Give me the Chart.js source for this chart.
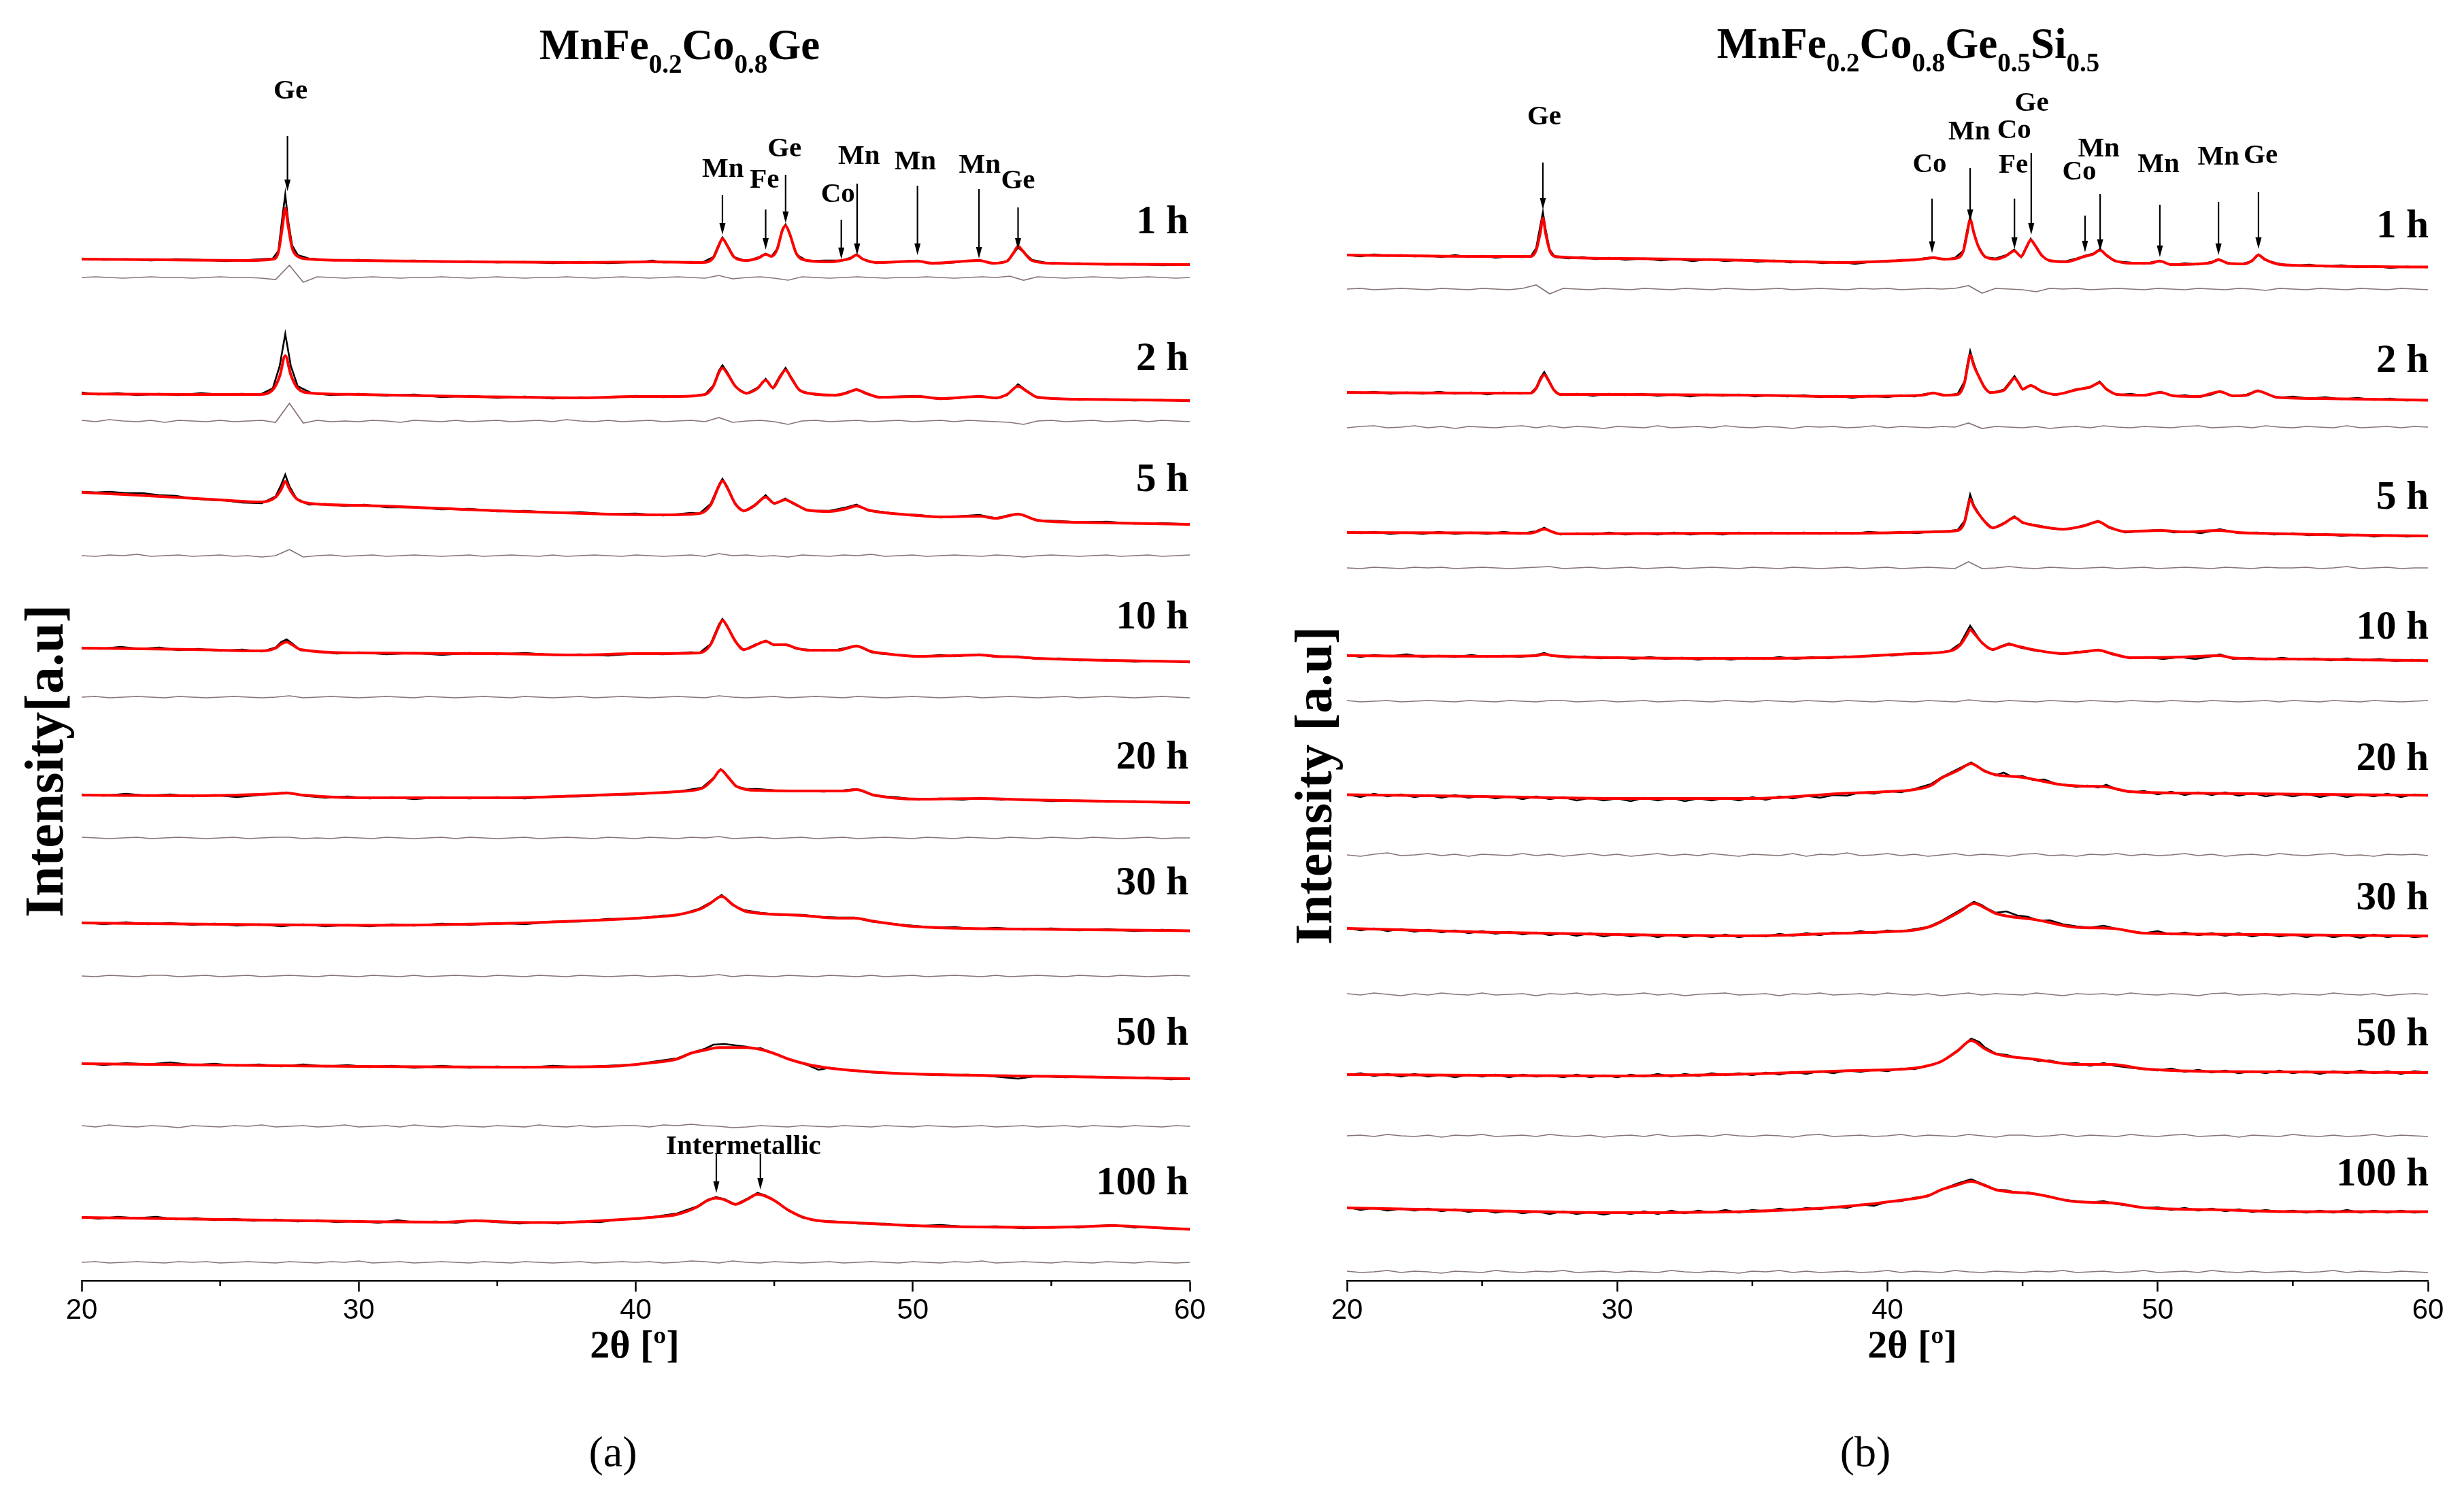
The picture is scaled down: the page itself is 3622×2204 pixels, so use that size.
<!DOCTYPE html>
<html>
<head>
<meta charset="utf-8">
<script src="https://cdn.jsdelivr.net/npm/chart.js@4.4.1/dist/chart.umd.min.js"></script>
<style>
  html, body { margin: 0; padding: 0; background: #fff; overflow: hidden; }
  canvas { position: absolute; left: 0; top: 0; }
</style>
</head>
<body>
<canvas id="chartA" width="3622" height="2204"></canvas>
<canvas id="chartB" width="3622" height="2204"></canvas>
<script>
// milling times, one stacked pattern each (top to bottom)
const timeLabels = ['1 h', '2 h', '5 h', '10 h', '20 h', '30 h', '50 h', '100 h'];
const timeValA = [1555, 1354, 1176, 974, 768, 583, 362, 142];
const timeValB = [1549, 1351, 1150, 959, 766, 561, 361, 155];
const majorTicks = [20, 30, 40, 50, 60];
const minorTicks = [25, 35, 45, 55];

// ---- (a) MnFe0.2Co0.8Ge : fitted (red) and observed (black), [2theta, a.u.] ----
const fitA1 = [[20,1502],[23,1501],[26,1500],[26.9,1502],[27.1,1512],[27.25,1550],[27.35,1577],[27.45,1552],[27.6,1518],[27.8,1506],[28.2,1502],[30,1500],[34,1498],[38,1497],[40.6,1498],[42.4,1497],[42.8,1504],[43.0,1522],[43.13,1532],[43.3,1522],[43.55,1505],[44.0,1500],[44.45,1504],[44.69,1509],[44.9,1506],[45.1,1516],[45.3,1545],[45.41,1551],[45.55,1540],[45.8,1510],[46.2,1500],[47.0,1498],[47.42,1500],[47.75,1503],[47.97,1508],[48.2,1502],[48.7,1497],[50.17,1499],[50.7,1496],[52.39,1500],[52.9,1496],[53.4,1499],[53.65,1512],[53.8,1521],[53.95,1515],[54.3,1500],[55,1496],[60,1494]];
const obsA1 = [[20,1503],[20.8,1501],[21.6,1502],[22.5,1500],[23.4,1502],[24.3,1501],[25.2,1499],[26.1,1501],[26.9,1503],[27.1,1514],[27.25,1565],[27.35,1597],[27.45,1560],[27.6,1522],[27.8,1508],[28.2,1503],[29.1,1500],[30,1501],[31,1499],[32,1500],[33,1498],[34,1499],[35,1497],[36,1498],[37,1496],[38,1498],[39,1496],[40.2,1498],[40.6,1500],[41,1497],[42,1498],[42.4,1497],[42.8,1505],[43.0,1524],[43.13,1534],[43.3,1523],[43.55,1505],[44.0,1499],[44.45,1505],[44.69,1510],[44.9,1506],[45.1,1517],[45.3,1547],[45.41,1553],[45.55,1541],[45.8,1509],[46.2,1499],[46.8,1500],[47.42,1500],[47.75,1504],[47.97,1509],[48.2,1502],[48.7,1496],[49.4,1498],[50.17,1500],[50.7,1495],[51.5,1497],[52.39,1501],[52.9,1495],[53.4,1499],[53.65,1511],[53.8,1519],[53.95,1514],[54.3,1501],[55,1495],[56,1496],[57,1494],[58,1495],[59,1493],[60,1494]];

const fitA2 = [[20,1304],[24,1303],[26.4,1303],[26.9,1310],[27.15,1330],[27.35,1360],[27.55,1332],[27.8,1312],[28.3,1305],[30,1303],[34,1300],[38,1298],[40,1300],[41.5,1300],[42.5,1303],[42.8,1315],[43.0,1335],[43.13,1342],[43.3,1334],[43.6,1315],[44.0,1305],[44.4,1312],[44.69,1324],[44.95,1313],[45.2,1328],[45.41,1339],[45.6,1328],[45.9,1310],[46.4,1304],[47.2,1302],[47.6,1305],[47.97,1310],[48.3,1305],[48.8,1299],[50.2,1300],[51,1297],[52.4,1300],[53.0,1298],[53.4,1303],[53.8,1315],[54.1,1308],[54.5,1299],[56,1296],[60,1294]];
const obsA2 = [[20,1306],[20.6,1303],[21.3,1305],[22,1302],[22.8,1304],[23.5,1302],[24.3,1305],[25,1303],[25.8,1304],[26.4,1302],[26.9,1312],[27.15,1345],[27.35,1392],[27.55,1345],[27.8,1315],[28.3,1305],[29,1302],[30,1304],[31,1301],[32,1303],[33,1299],[34,1301],[35,1298],[36,1300],[37,1297],[38,1299],[39,1298],[40,1301],[41,1299],[42,1301],[42.5,1303],[42.8,1316],[43.0,1338],[43.13,1346],[43.3,1336],[43.6,1314],[44.0,1304],[44.4,1313],[44.69,1326],[44.95,1312],[45.2,1330],[45.41,1342],[45.6,1329],[45.9,1309],[46.4,1303],[47.2,1301],[47.6,1306],[47.97,1311],[48.3,1304],[48.8,1298],[49.5,1300],[50.2,1301],[51,1296],[51.7,1298],[52.4,1301],[53.0,1297],[53.4,1302],[53.8,1318],[54.1,1309],[54.5,1298],[55.3,1297],[56,1295],[57,1296],[58,1294],[59,1295],[60,1293]];

const fitA3 = [[20,1159],[22,1155],[25,1148],[26.5,1145],[27.0,1152],[27.2,1163],[27.35,1175],[27.5,1164],[27.75,1150],[28.2,1143],[30,1140],[35,1132],[39,1127],[41,1126],[42.3,1128],[42.7,1140],[43.0,1168],[43.13,1176],[43.3,1166],[43.6,1142],[43.9,1132],[44.3,1140],[44.69,1152],[45.0,1143],[45.4,1148],[45.7,1143],[46.2,1133],[47.0,1131],[47.6,1135],[47.97,1139],[48.4,1133],[48.8,1130],[50.2,1125],[51,1123],[52.4,1124],[53,1121],[53.8,1127],[54.5,1118],[56,1115],[60,1112]];
const obsA3 = [[20,1160],[20.5,1159],[21,1160],[21.6,1158],[22.2,1158],[22.8,1155],[23.4,1154],[24,1150],[24.6,1148],[25.2,1147],[25.8,1144],[26.5,1143],[27.0,1153],[27.2,1170],[27.35,1185],[27.5,1168],[27.75,1150],[28.2,1141],[28.8,1142],[29.5,1139],[30.2,1141],[31,1137],[32,1137],[33,1134],[34,1135],[35,1131],[36,1132],[37,1129],[38,1130],[39,1127],[40,1128],[41,1125],[42,1129],[42.3,1128],[42.7,1142],[43.0,1170],[43.13,1179],[43.3,1168],[43.6,1141],[43.9,1131],[44.3,1141],[44.69,1155],[45.0,1142],[45.4,1150],[45.7,1142],[46.2,1132],[47.0,1132],[47.6,1137],[47.97,1141],[48.4,1132],[48.8,1131],[49.5,1127],[50.2,1126],[51,1122],[51.7,1124],[52.4,1126],[53,1121],[53.4,1125],[53.8,1128],[54.5,1118],[55.3,1117],[56,1115],[57,1116],[58,1113],[59,1114],[60,1112]];

const fitA4 = [[20,930],[24,928],[26.5,926],[27.0,930],[27.2,936],[27.4,939],[27.6,935],[27.9,928],[30,923],[35,922],[38,920],[40,922],[42.3,923],[42.7,935],[43.0,962],[43.13,971],[43.3,962],[43.6,940],[43.9,928],[44.3,934],[44.7,940],[45.0,935],[45.4,935],[45.8,930],[46.2,927],[47.3,927],[47.97,933],[48.5,925],[48.8,923],[50.2,918],[51.5,919],[52.4,920],[53,918],[53.8,917],[54.5,915],[60,910]];
const obsA4 = [[20,931],[20.7,929],[21.4,932],[22.1,929],[22.8,931],[23.5,927],[24.2,929],[25,926],[25.8,928],[26.5,925],[27.0,931],[27.2,939],[27.4,943],[27.6,937],[27.9,927],[28.5,925],[29.2,922],[30,924],[31,921],[32,923],[33,920],[34,923],[35,921],[36,923],[37,920],[38,921],[39,919],[40,922],[41,921],[42,924],[42.3,923],[42.7,936],[43.0,965],[43.13,973],[43.3,963],[43.6,939],[43.9,927],[44.3,935],[44.7,941],[45.0,934],[45.4,936],[45.8,929],[46.2,928],[46.8,926],[47.3,928],[47.97,934],[48.5,924],[48.8,922],[49.5,920],[50.2,917],[51,920],[51.5,918],[52.4,921],[53,917],[53.8,918],[54.5,914],[55.3,915],[56,912],[57,913],[58,910],[59,911],[60,909]];

const fitA5 = [[20,714],[24,713],[27,716],[27.4,717],[28,714],[30,710],[35,710],[38,713],[40,716],[41.5,719],[42.4,724],[42.8,738],[43.07,751],[43.3,742],[43.6,728],[44.0,722],[44.4,721],[46,720],[47.5,720],[47.97,722],[48.6,714],[50.2,708],[52.4,709],[54,707],[60,703]];
const obsA5 = [[20,715],[20.8,713],[21.6,716],[22.4,713],[23.2,715],[24,712],[24.8,714],[25.6,711],[26.4,714],[27.4,718],[28,713],[28.8,710],[29.6,712],[30.4,709],[31.2,711],[32,708],[33,711],[34,709],[35,711],[36,709],[37,712],[38,712],[39,714],[40,715],[41,718],[41.5,719],[42.4,725],[42.8,739],[43.07,752],[43.3,743],[43.6,727],[44.0,723],[44.4,723],[45,721],[46,720],[46.8,719],[47.5,721],[47.97,723],[48.6,713],[49.4,711],[50.2,707],[51,709],[51.8,707],[52.4,710],[53.2,707],[54,708],[55,705],[56,706],[57,704],[58,705],[59,703],[60,703]];

const fitA6 = [[20,526],[25,524],[30,522.5],[35,525],[38,529],[40,533],[41.5,538],[42.3,546],[42.7,555],[43.1,565],[43.5,553],[43.9,544],[44.5,540],[46,537],[47.3,533],[47.9,533],[48.5,529],[50,521],[52,518],[55,516.6],[60,514.4]];
const obsA6 = [[20,527],[20.8,524],[21.6,527],[22.4,524],[23.2,526],[24,523],[24.8,525],[25.6,522],[26.4,524],[27.2,521],[28,524],[28.8,521],[29.6,523],[30.4,521],[31.2,524],[32,522],[33,525],[34,523],[35,526],[36,524],[37,528],[38,528],[39,532],[40,532],[41,537],[41.5,537],[42.3,547],[42.7,556],[43.1,567],[43.5,552],[43.9,545],[44.5,541],[45.2,538],[46,538],[46.7,535],[47.3,534],[47.9,534],[48.5,528],[49.2,525],[50,522],[50.8,519],[51.5,520],[52.3,517],[53,519],[54,516],[55,518],[56,515],[57,517],[58,514],[59,516],[60,514]];

const fitA7 = [[20,319],[25,317],[30,315],[35,314],[39,315],[40.5,320],[41.5,326],[42,334.5],[42.5,339],[43,342.7],[44,342.7],[44.5,340],[45,334],[45.5,326],[46.2,318],[47,312.5],[48.5,307],[50,304],[55,300.4],[60,297]];
const obsA7 = [[20,320],[20.8,317],[21.6,320],[22.4,318],[23.2,321],[24,317],[24.8,319],[25.6,316],[26.4,318],[27.2,315],[28,318],[28.8,315],[29.6,317],[30.4,314],[31.2,316],[32,313],[33,316],[34,313],[35,315],[36,313],[37,316],[38,314],[39,316],[40,318],[40.8,323],[41.5,327],[42,335],[42.5,341],[42.8,347],[43.2,348],[43.6,346],[44,344],[44.2,341],[44.5,342],[45,334],[45.5,326],[46.2,317],[46.6,310],[47,313],[47.8,309],[48.5,306],[49.3,305],[50,304],[51,302],[52,303],[53,300],[53.8,297],[54.5,301],[55.5,299],[56.5,300],[57.5,298],[58.5,299],[59.3,296],[60,297]];

const fitA8 = [[20,93],[25,90],[30,87],[33,86],[34.2,88],[35.5,86],[37,85.4],[39,88.7],[40.5,93],[41.5,97.5],[42.2,108],[42.6,118],[42.9,121.6],[43.2,119],[43.6,112.3],[44.0,119],[44.4,127],[44.7,124],[45.0,118],[45.5,104],[46.0,94],[46.5,88.7],[48,85],[50,81],[55,78.3],[56.5,80],[57.2,81],[58.5,78.5],[60,75.5]];
const obsA8 = [[20,94],[20.6,91],[21.3,94],[22,92],[22.7,94],[23.4,90],[24.1,92],[24.8,89],[25.5,91],[26.2,88],[27,90],[27.8,87],[28.5,89],[29.2,86],[30,88],[30.7,85],[31.4,89],[32,86],[32.8,87],[33.5,85],[34.2,89],[35,86],[35.8,84],[36.5,86],[37.2,84],[38,87],[38.7,86],[39.4,90],[40.2,91],[41,96],[41.5,99],[42.2,109],[42.6,119],[42.9,123],[43.2,120],[43.6,112],[44.0,120],[44.4,129],[44.7,125],[45.0,118],[45.5,103],[46.0,93],[46.5,88],[47.2,87],[48,84],[49,84],[50,80],[51,82],[52,79],[53,80],[54,77],[55,79],[56,78],[56.5,80],[57.2,82],[58,78],[58.5,79],[59.3,76],[60,76]];

// ---- (b) MnFe0.2Co0.8Ge0.5Si0.5 ----
const fitB1 = [[20,1508],[25,1506],[26.8,1506],[27.0,1515],[27.15,1540],[27.25,1562],[27.35,1540],[27.5,1515],[27.7,1506],[30,1503],[35,1500],[38.4,1497],[40.5,1500],[41.3,1502],[41.7,1504],[42.1,1502],[42.5,1503],[42.8,1513],[42.95,1540],[43.06,1560],[43.2,1540],[43.35,1522],[43.6,1506],[44.0,1502],[44.4,1507],[44.69,1514],[44.95,1506],[45.15,1520],[45.3,1530],[45.45,1523],[45.7,1508],[46.0,1500],[46.6,1498],[47.3,1506],[47.6,1509],[47.87,1515],[48.1,1508],[48.4,1500],[49,1496],[49.7,1496],[50.08,1499],[50.5,1494],[51.5,1495],[52.0,1497],[52.25,1501],[52.6,1496],[53.2,1495],[53.5,1500],[53.73,1508],[53.95,1502],[54.4,1495],[55,1493],[60,1490.5]];
const obsB1 = [[20,1508],[20.5,1506],[21,1509],[21.5,1507],[22,1508],[22.5,1506],[23,1507],[23.5,1505],[24,1508],[24.5,1505],[25,1507],[25.5,1504],[26,1506],[26.5,1505],[26.8,1506],[27.0,1518],[27.15,1550],[27.25,1571],[27.35,1546],[27.5,1516],[27.7,1505],[28.2,1503],[28.7,1505],[29.2,1502],[29.7,1504],[30.3,1501],[31,1503],[31.6,1500],[32.2,1502],[32.8,1499],[33.4,1502],[34,1499],[34.6,1501],[35.2,1498],[35.8,1500],[36.4,1497],[37,1499],[37.6,1496],[38.2,1498],[38.8,1495],[39.4,1498],[40,1498],[40.5,1501],[41,1500],[41.3,1503],[41.7,1505],[42.1,1501],[42.5,1504],[42.8,1514],[42.95,1545],[43.06,1564],[43.2,1542],[43.35,1522],[43.6,1505],[44.0,1503],[44.4,1508],[44.69,1516],[44.95,1505],[45.15,1521],[45.3,1532],[45.45,1523],[45.7,1507],[46.0,1499],[46.6,1499],[47.0,1503],[47.3,1507],[47.6,1510],[47.87,1517],[48.1,1507],[48.4,1499],[49,1497],[49.5,1495],[50.08,1500],[50.5,1493],[51,1496],[51.5,1494],[52.0,1498],[52.25,1502],[52.6,1495],[53.2,1496],[53.5,1499],[53.73,1509],[53.95,1501],[54.4,1496],[55,1492],[55.6,1494],[56.2,1491],[56.8,1493],[57.4,1490],[58,1492],[58.6,1489],[59.2,1491],[60,1490]];

const fitB2 = [[20,1306],[25,1305],[26.8,1305],[27.0,1312],[27.15,1324],[27.3,1332],[27.45,1324],[27.65,1310],[27.9,1303],[30,1303],[35,1302],[38.4,1300],[40.5,1301],[41.3,1302],[41.7,1305],[42.1,1302],[42.6,1303],[42.85,1320],[42.97,1345],[43.06,1361],[43.2,1345],[43.4,1328],[43.6,1313],[43.8,1306],[44.3,1309],[44.5,1318],[44.7,1327],[44.85,1320],[45.0,1311],[45.3,1316],[45.7,1308],[46.2,1303],[47.0,1310],[47.5,1314],[47.85,1320],[48.1,1311],[48.5,1303],[49.5,1302],[50.1,1306],[50.6,1301],[51.5,1300],[52.3,1307],[52.8,1301],[53.3,1302],[53.7,1308],[54.4,1299],[56,1297],[60,1294.6]];
const obsB2 = [[20,1307],[20.5,1305],[21,1307],[21.6,1304],[22.2,1306],[22.8,1304],[23.4,1307],[24,1304],[24.6,1306],[25.2,1303],[25.8,1306],[26.4,1304],[26.8,1305],[27.0,1313],[27.15,1327],[27.3,1336],[27.45,1326],[27.65,1310],[27.9,1302],[28.5,1304],[29.1,1301],[29.7,1304],[30.3,1302],[30.9,1304],[31.5,1301],[32.1,1303],[32.7,1300],[33.3,1303],[33.9,1301],[34.5,1303],[35.1,1300],[35.7,1302],[36.3,1300],[36.9,1302],[37.5,1299],[38.1,1301],[38.7,1298],[39.3,1301],[40,1299],[40.5,1302],[41,1300],[41.3,1303],[41.7,1306],[42.1,1301],[42.6,1304],[42.85,1322],[42.97,1350],[43.06,1367],[43.2,1348],[43.4,1327],[43.6,1312],[43.8,1305],[44.3,1310],[44.5,1320],[44.7,1330],[44.85,1321],[45.0,1310],[45.3,1317],[45.7,1307],[46.2,1302],[46.6,1306],[47.0,1311],[47.5,1313],[47.85,1322],[48.1,1310],[48.5,1302],[49,1304],[49.5,1301],[50.1,1307],[50.6,1300],[51,1302],[51.5,1299],[52,1303],[52.3,1308],[52.8,1300],[53.3,1303],[53.7,1309],[54.4,1298],[55,1300],[55.6,1297],[56.2,1299],[56.8,1296],[57.4,1298],[58,1295],[58.6,1297],[59.2,1294],[60,1295]];

const fitB3 = [[20,1100],[25,1099.5],[26.8,1099],[27.0,1101],[27.3,1105],[27.6,1101],[27.9,1098],[30,1098.5],[35,1099],[38.4,1099],[40.5,1100],[41.7,1101],[42.6,1103],[42.85,1115],[42.97,1135],[43.06,1149],[43.2,1138],[43.5,1121],[43.9,1107],[44.3,1113],[44.7,1122],[45.0,1115],[45.5,1110],[46.5,1105],[47.3,1110],[47.8,1116],[48.2,1108],[48.8,1101.5],[50.1,1103],[51,1101],[52.3,1103],[53,1100],[53.7,1099],[56,1097],[60,1095]];
const obsB3 = [[20,1101],[20.5,1099],[21,1101],[21.6,1098],[22.2,1100],[22.8,1098],[23.4,1101],[24,1098],[24.6,1100],[25.2,1098],[25.8,1101],[26.4,1098],[27.0,1102],[27.3,1107],[27.6,1101],[27.9,1097],[28.5,1099],[29.1,1097],[29.7,1100],[30.3,1097],[30.9,1099],[31.5,1097],[32.1,1100],[32.7,1097],[33.3,1099],[33.9,1097],[34.5,1100],[35.1,1098],[35.7,1100],[36.3,1098],[36.9,1100],[37.5,1098],[38.1,1100],[38.7,1098],[39.3,1101],[40,1099],[40.5,1101],[41.1,1099],[41.7,1102],[42.2,1102],[42.6,1104],[42.85,1117],[42.97,1140],[43.06,1156],[43.2,1140],[43.5,1120],[43.9,1106],[44.3,1114],[44.7,1124],[45.0,1114],[45.5,1111],[46,1107],[46.5,1104],[47.0,1108],[47.3,1111],[47.8,1117],[48.2,1107],[48.8,1100],[49.4,1102],[50.1,1104],[50.6,1100],[51,1102],[51.6,1099],[52.3,1105],[53,1099],[53.7,1100],[54.3,1097],[55,1099],[55.6,1096],[56.2,1098],[56.8,1095],[57.4,1097],[58,1094],[58.6,1096],[59.2,1094],[60,1095]];

const fitB4 = [[20,919],[25,918],[27.0,919],[27.3,921],[27.6,919],[30,916],[35,915],[38.4,917],[41,922],[42.3,925.6],[42.7,935],[42.95,950],[43.06,957],[43.2,952],[43.5,938],[43.9,928],[44.2,932],[44.5,935.5],[44.9,932],[45.5,927],[46.5,922],[47.3,925],[47.8,927],[48.3,922],[49,916],[51,917],[52.3,919],[52.8,915.6],[55,914],[60,911.7]];
const obsB4 = [[20,920],[20.5,917],[21,920],[21.6,918],[22.2,921],[22.8,917],[23.4,919],[24,917],[24.6,920],[25.2,917],[25.8,919],[26.4,917],[27.0,920],[27.3,923],[27.6,919],[28.2,916],[28.8,918],[29.4,915],[30,917],[30.6,914],[31.2,917],[31.8,914],[32.4,916],[33,913],[33.6,916],[34.2,913],[34.8,916],[35.4,914],[36,917],[36.6,914],[37.2,917],[37.8,915],[38.4,918],[39,917],[39.6,920],[40.2,919],[41,923],[41.6,922],[42.3,926],[42.7,937],[42.95,955],[43.06,963],[43.2,955],[43.5,937],[43.9,927],[44.2,933],[44.5,937],[44.9,931],[45.5,926],[46,924],[46.5,921],[47.0,925],[47.3,924],[47.8,928],[48.3,921],[49,915],[49.6,917],[50.2,914],[50.8,917],[51.4,914],[52,918],[52.3,921],[52.8,914],[53.4,916],[54,913],[54.6,916],[55.2,913],[55.8,915],[56.4,912],[57,915],[57.6,912],[58.2,914],[58.8,911],[59.4,913],[60,911]];

const fitB5 = [[20,714.5],[25,712],[30,709],[35,709],[38.4,716.5],[40,719],[41,722],[41.6,728],[42,739],[42.6,750],[43.1,760],[43.6,749],[44,744],[45,740],[46.5,729],[47.4,727],[48,726.5],[49,719],[52,716.5],[60,713.7]];
const obsB5 = [[20,715],[20.5,711],[21,716],[21.5,712],[22,715],[22.5,711],[23,714],[23.5,710],[24,714],[24.5,710],[25,713],[25.5,709],[26,712],[26.5,708],[27,712],[27.5,708],[28,711],[28.5,706],[29,710],[29.5,706],[30,709],[30.5,705],[31,710],[31.5,706],[32,710],[32.5,705],[33,709],[33.5,706],[34,710],[34.5,706],[35,711],[35.5,707],[36,712],[36.5,709],[37,713],[37.5,710],[38,714],[38.5,713],[39,718],[39.5,716],[40,720],[40.5,718],[41,723],[41.6,730],[42,740],[42.6,752],[43.1,762],[43.3,757],[43.6,750],[44,743],[44.3,747],[44.6,741],[45,742],[45.4,736],[45.8,737],[46.2,731],[46.6,729],[47,726],[47.4,728],[47.8,725],[48.1,729],[48.5,722],[49,718],[49.5,720],[50,715],[50.5,719],[51,714],[51.5,718],[52,714],[52.5,718],[53,713],[53.5,717],[54,712],[54.5,716],[55,712],[55.5,716],[56,711],[56.5,715],[57,711],[57.5,715],[58,712],[58.5,716],[59,711],[59.5,715],[60,713]];

const fitB6 = [[20,518],[25,512.6],[30,509],[35,507],[38.4,511],[40,513],[41,515.6],[41.6,521],[42,528],[42.7,543],[43.2,554.5],[43.7,546],[44,540],[45.5,530.6],[47,519.5],[48.3,518],[49.5,511],[52,509.5],[60,506.7]];
const obsB6 = [[20,519],[20.5,515],[21,518],[21.5,514],[22,517],[22.5,513],[23,516],[23.5,512],[24,515],[24.5,511],[25,514],[25.5,510],[26,513],[26.5,509],[27,512],[27.5,508],[28,511],[28.5,507],[29,511],[29.5,506],[30,510],[30.5,506],[31,509],[31.5,505],[32,509],[32.5,505],[33,508],[33.5,505],[34,509],[34.5,505],[35,508],[35.5,506],[36,510],[36.5,507],[37,511],[37.5,508],[38,512],[38.5,510],[39,514],[39.5,511],[40,515],[40.5,513],[41,517],[41.5,520],[42,529],[42.7,545],[43.2,557],[43.5,552],[43.7,547],[44,541],[44.4,543],[44.8,537],[45.2,535],[45.6,529],[46,530],[46.5,524],[47,521],[47.5,519],[48,522],[48.4,518],[49,514],[49.5,511],[50,514],[50.5,509],[51,512],[51.5,508],[52,511],[52.5,507],[53,511],[53.5,506],[54,510],[54.5,506],[55,509],[55.5,505],[56,509],[56.5,505],[57,508],[57.5,504],[58,509],[58.5,505],[59,508],[59.5,505],[60,507]];

const fitB7 = [[20,303],[25,302],[30,301],[35,304],[38.4,308.6],[41,312.5],[41.6,317],[42,322.5],[42.6,338],[43.1,353],[43.6,341],[44,333.6],[45.5,325.3],[47,318],[48.3,318],[49.5,311.4],[52,307.5],[60,306]];
const obsB7 = [[20,302],[20.5,305],[21,301],[21.5,304],[22,300],[22.5,304],[23,300],[23.5,303],[24,299],[24.5,303],[25,300],[25.5,303],[26,299],[26.5,303],[27,300],[27.5,302],[28,299],[28.5,303],[29,299],[29.5,302],[30,299],[30.5,303],[31,300],[31.5,304],[32,300],[32.5,304],[33,301],[33.5,305],[34,302],[34.5,305],[35,302],[35.5,306],[36,303],[36.5,307],[37,304],[37.5,308],[38,305],[38.5,309],[39,307],[39.5,310],[40,308],[40.5,312],[41,311],[41.5,316],[42,322],[42.6,339],[43.1,356],[43.4,351],[43.6,343],[44,334],[44.4,332],[44.8,328],[45.2,327],[45.6,323],[46,324],[46.5,319],[47,320],[47.5,316],[48,320],[48.4,316],[49,313],[49.5,311],[50,309],[50.5,312],[51,307],[51.5,310],[52,306],[52.5,309],[53,305],[53.5,308],[54,305],[54.5,309],[55,305],[55.5,308],[56,304],[56.5,308],[57,305],[57.5,309],[58,305],[58.5,308],[59,304],[59.5,308],[60,306]];

const fitB8 = [[20,107],[25,103],[30,100],[35,102],[38.4,109],[40.5,118.3],[41.5,125],[42,133.8],[42.6,141],[43.1,146],[43.6,140],[44,133.8],[45.5,127.2],[47,116],[48.3,114.4],[49.5,107.2],[52,104.4],[55,101.6],[60,101.6]];
const obsB8 = [[20,108],[20.5,104],[21,107],[21.5,103],[22,106],[22.5,103],[23,106],[23.5,102],[24,105],[24.5,101],[25,104],[25.5,100],[26,103],[26.5,99],[27,102],[27.5,98],[28,102],[28.5,98],[29,101],[29.5,97],[30,101],[30.5,98],[31,102],[31.5,98],[32,103],[32.5,99],[33,103],[33.5,100],[34,104],[34.5,100],[35,104],[35.5,102],[36,106],[36.5,103],[37,107],[37.5,105],[38,109],[38.5,107],[39,112],[39.5,110],[40,116],[40.5,117],[41,122],[41.5,124],[42,134],[42.6,143],[43.1,149],[43.4,144],[43.6,141],[44,134],[44.4,133],[44.8,129],[45.2,130],[45.6,126],[46,124],[46.5,119],[47,117],[47.5,115],[48,117],[48.4,113],[49,110],[49.5,107],[50,108],[50.5,104],[51,107],[51.5,103],[52,106],[52.5,102],[53,105],[53.5,101],[54,104],[54.5,101],[55,103],[55.5,100],[56,103],[56.5,100],[57,104],[57.5,100],[58,103],[58.5,100],[59,103],[59.5,100],[60,102]];

// ---- difference curves: level of each curve and its deviations on the 0.5 deg grid ----
const diffTheta = [20,20.5,21,21.5,22,22.5,23,23.5,24,24.5,25,25.5,26,26.5,27,27.5,28,28.5,29,29.5,30,30.5,31,31.5,32,32.5,33,33.5,34,34.5,35,35.5,36,36.5,37,37.5,38,38.5,39,39.5,40,40.5,41,41.5,42,42.5,43,43.5,44,44.5,45,45.5,46,46.5,47,47.5,48,48.5,49,49.5,50,50.5,51,51.5,52,52.5,53,53.5,54,54.5,55,55.5,56,56.5,57,57.5,58,58.5,59,59.5,60];
const diffLevelA = [1475, 1264, 1066, 858, 651, 448, 227, 27];
const diffLevelB = [1458, 1255, 1048, 852, 626, 421, 213, 13];

const diffA1 = [0,1,0,-1,0,1,0,0,-1,0, 1,0,0,-1,-3,18,-7,1,0,-1, 0,1,0,-1,0,0,1,0,-1,0, 1,0,-1,0,0,1,0,-1,0,1, 0,-1,0,1,0,-1,3,-2,0,1, -1,-4,1,0,-1,0,1,0,-1,0, 0,1,0,-1,0,1,0,2,-4,1, 0,-1,0,1,0,-1,0,1,0,-1, 0];
const diffA2 = [1,-1,2,0,-1,1,-2,1,0,-1, 1,-1,0,1,-2,26,-3,1,-1,0, -1,1,0,-2,1,0,-1,1,-1,0, 1,-1,0,1,-1,2,0,-1,1,-1, 0,1,-1,0,1,-1,5,-2,0,1, -1,-5,0,1,-1,0,1,-1,0,1, -1,0,1,-1,1,0,-1,-2,-5,0, 1,-1,0,1,-1,0,1,-1,1,0, -1];
const diffA3 = [0,-1,1,0,2,-1,0,1,-1,0, 1,-1,0,-2,0,9,-2,0,1,-1, 0,1,-1,0,1,0,-1,0,1,-1, 0,1,0,-1,1,-1,0,1,0,-1, 1,0,-1,0,1,-1,3,0,1,-1, 0,-2,1,0,-1,1,0,2,-1,0, 1,-1,0,1,0,-1,1,0,-2,0, 1,0,-1,0,1,-1,0,1,-1,0, 1];
const diffA4 = [0,1,-1,0,1,0,-1,1,0,-1, 0,1,0,-1,0,2,-1,0,1,0, -1,0,1,0,-1,1,0,-1,0,1, 0,-1,1,0,-1,0,1,-1,0,1, 0,-1,0,1,0,-1,2,0,-1,0, 1,-1,0,1,0,-1,1,0,-1,0, 1,0,-1,0,1,-1,0,1,0,-1, 0,1,-1,0,1,0,-1,0,1,0, -1];
const diffA5 = [1,0,-1,0,1,-1,0,1,0,-1, 0,1,-1,0,1,1,-1,0,-1,1, 0,-1,1,0,-1,0,1,-1,1,0, -1,0,1,-1,0,1,0,-1,1,0, -1,1,0,-1,1,0,2,-1,0,1, -1,0,1,-1,0,1,-1,0,1,0, -1,1,0,-1,1,0,-1,1,0,-1, 1,0,-1,1,0,-1,0,1,-1,0, 0];
const diffA6 = [0,-1,1,0,-1,1,1,-1,0,1, -1,0,1,-1,0,1,0,-1,1,0, -1,1,0,-1,1,-1,0,1,0,-1, 1,0,-1,1,0,-1,1,0,-1,0, 1,-1,0,1,-1,0,2,-1,1,0, -1,1,0,-1,1,0,-1,1,-1,0, 1,-1,0,1,0,-1,1,-1,0,1, 0,-1,1,0,-1,1,0,-1,0,1, 0];
const diffA7 = [1,-1,2,0,-1,1,0,-2,1,0, -1,1,0,2,-1,0,1,-1,0,2, -1,0,1,-1,2,0,-1,1,0,-1, 1,0,-1,2,0,-1,1,-1,0,1, 1,-1,2,1,3,1,0,-2,-1,1, 0,-1,1,0,-1,1,0,-1,1,0, -1,1,0,-1,0,1,-1,0,1,-1, 0,1,-1,1,0,-1,1,0,-1,1, 0];
const diffA8 = [0,1,-1,0,1,0,-1,1,0,1, -1,0,1,0,-1,1,0,-1,1,0, 2,-1,0,1,-1,0,1,0,-1,1, 0,-1,1,0,-1,0,1,-1,0,1, 0,1,-1,0,2,1,-1,2,0,-1, 1,0,-1,0,1,-1,0,1,0,-1, 1,0,-1,1,0,2,-1,0,1,0, -1,1,0,-1,1,0,-1,1,0,-1, 0];

const diffB1 = [0,1,-1,0,1,0,-1,1,0,-1, 1,0,-1,1,6,-7,1,0,-1,1, 0,-1,1,0,-1,1,0,-1,1,0, -1,0,1,-1,0,1,0,-1,1,0, 1,-1,0,1,0,1,5,-6,1,0, -1,-4,1,0,1,-1,0,1,0,-1, 1,0,-1,1,0,-1,1,0,-2,1, 0,-1,1,0,-1,1,0,-1,1,0, -1];
const diffB2 = [-1,1,2,-1,0,2,-1,1,-2,1, 0,-1,1,2,-1,2,-1,1,0,-2, 1,0,-1,2,-1,0,1,-1,2,0, -1,1,0,-2,1,0,1,-1,0,2, -1,1,0,-1,1,0,6,-2,1,0, -1,1,-2,0,1,-1,2,0,-1,1, 0,-1,1,2,-1,0,1,-1,2,0, -1,1,0,-1,2,-1,0,1,-1,1, 0];
const diffB3 = [0,-1,1,0,-1,1,0,1,-1,0, 1,0,-1,0,1,2,-1,0,1,-1, 0,1,-1,0,1,-1,0,1,0,-1, 1,0,-1,1,0,-1,0,1,-1,0, 1,-1,0,1,0,-1,9,-1,0,2, 0,-1,1,0,-1,0,1,-1,0,1, -1,0,1,0,-1,1,0,-1,1,0, 0,1,-1,0,2,-1,0,1,-1,0, 0];
const diffB4 = [1,-1,0,1,-1,0,1,0,-1,1, 0,-1,1,0,-1,1,1,-1,0,1, -1,0,1,-1,0,1,0,-1,1,0, -1,1,0,-1,1,0,-1,1,0,-1, 1,0,-1,1,0,-1,2,0,-1,1, 0,-1,1,0,-1,1,0,-1,1,0, -1,1,0,-1,1,0,-1,0,1,-1, 1,0,-1,1,0,-1,1,0,-1,0, 1];
const diffB5 = [0,-2,1,3,-1,0,2,-1,1,-2, 1,0,-1,2,-1,1,-2,0,2,-1, 1,-2,0,2,-1,1,-1,2,0,-2, 1,0,-1,2,-2,1,0,3,-1,0, 2,-1,1,-2,0,2,-1,1,0,-2, 1,2,-1,0,-2,1,0,2,-1,1, -1,0,2,-1,1,-2,0,1,-1,2, 0,-1,1,2,-1,0,-2,1,0,1, -1];
const diffB6 = [1,-1,2,0,-2,1,-1,2,0,-1, 2,-1,0,1,-2,1,0,2,-1,1, -1,0,2,-1,1,-2,0,1,2,-1, 0,1,-2,1,0,2,-1,0,1,-1, 2,0,-1,1,-2,0,2,-1,1,0, -1,2,0,-2,1,0,1,-1,2,0, -1,1,0,-2,1,2,-1,0,1,-1, 1,0,-1,2,0,-1,1,-2,0,1, 0];
const diffB7 = [0,1,-1,2,0,-1,1,-2,1,0, 2,-1,0,1,-1,2,0,-1,1,-2, 0,1,-1,2,-1,0,1,-1,2,0, -1,1,0,-2,1,2,-1,0,1,-1, 0,2,-1,1,0,-1,2,0,-2,1, 1,-1,0,2,-1,1,0,-1,2,0, -1,1,2,-1,0,1,-2,1,0,-1, 2,0,-1,1,-1,0,2,-1,1,0, -1];
const diffB8 = [1,-1,0,2,-1,1,0,-2,1,0, -1,2,0,-1,1,0,2,-1,0,1, -1,1,0,-1,2,0,-1,1,0,-2, 1,0,2,-1,1,-1,0,1,-1,0, 2,-1,1,0,-1,2,0,-1,1,0, -1,1,0,2,-1,0,1,-1,0,2, -1,0,1,-1,2,0,-1,1,-1,0, 1,-1,0,2,-1,1,0,-1,1,0, -1];

// ---- peak markers: arrows [2theta, from, to] and labels [text, 2theta, level] ----
const arrowsA = [[27.43,1683,1602],[43.13,1596,1538],[44.69,1575,1516],[45.41,1626,1555],[47.42,1560,1502],[47.99,1613,1508],[50.17,1610,1508],[52.39,1605,1503],[53.80,1578,1516],[42.91,186,129],[44.50,186,134]];
const labelsA = [['Ge',27.54,1749],['Mn',43.15,1634],['Fe',44.65,1618],['Ge',45.37,1664],['Co',47.30,1597],['Mn',48.06,1653],['Mn',50.09,1645],['Mn',52.42,1640],['Ge',53.80,1617],['Intermetallic',43.89,197]];
const arrowsB = [[27.25,1644,1575],[41.65,1591,1511],[43.06,1636,1558],[44.70,1591,1517],[45.32,1658,1538],[47.31,1566,1512],[47.87,1598,1514],[50.08,1582,1505],[52.25,1586,1508],[53.73,1601,1517]];
const labelsB = [['Ge',27.30,1711],['Co',41.56,1641],['Mn',43.03,1689],['Co',44.69,1691],['Ge',45.34,1731],['Fe',44.66,1640],['Co',47.10,1630],['Mn',47.82,1664],['Mn',50.03,1641],['Mn',52.25,1652],['Ge',53.81,1654]];

const fitsA = [fitA1, fitA2, fitA3, fitA4, fitA5, fitA6, fitA7, fitA8];
const obsA = [obsA1, obsA2, obsA3, obsA4, obsA5, obsA6, obsA7, obsA8];
const diffsA = [diffA1, diffA2, diffA3, diffA4, diffA5, diffA6, diffA7, diffA8];
const fitsB = [fitB1, fitB2, fitB3, fitB4, fitB5, fitB6, fitB7, fitB8];
const obsB = [obsB1, obsB2, obsB3, obsB4, obsB5, obsB6, obsB7, obsB8];
const diffsB = [diffB1, diffB2, diffB3, diffB4, diffB5, diffB6, diffB7, diffB8];

const SERIF = "'Liberation Serif', 'Times New Roman', serif";

// texts, arrows and minor ticks on top of the plot
const panelText = {
  id: 'panelText',
  afterDraw(chart, args, o) {
    const ctx = chart.ctx;
    const xs = chart.scales.x, ys = chart.scales.y;
    ctx.save();
    ctx.fillStyle = '#000';
    ctx.strokeStyle = '#000';

    // minor ticks
    ctx.lineWidth = 2.5;
    minorTicks.forEach(t => {
      const px = xs.getPixelForValue(t);
      ctx.beginPath(); ctx.moveTo(px, xs.top); ctx.lineTo(px, xs.top + 8); ctx.stroke();
    });

    // arrows
    ctx.lineWidth = 2.2;
    o.arrows.forEach(a => {
      const px = xs.getPixelForValue(a[0]);
      const y0 = ys.getPixelForValue(a[1]), y1 = ys.getPixelForValue(a[2]);
      ctx.beginPath(); ctx.moveTo(px, y0); ctx.lineTo(px, y1 - 14); ctx.stroke();
      ctx.beginPath(); ctx.moveTo(px - 4.5, y1 - 17); ctx.lineTo(px + 4.5, y1 - 17); ctx.lineTo(px, y1); ctx.closePath(); ctx.fill();
    });

    // peak labels
    ctx.font = 'bold 41px ' + SERIF;
    ctx.textAlign = 'center';
    ctx.textBaseline = 'middle';
    o.labels.forEach(l => ctx.fillText(l[0], xs.getPixelForValue(l[1]), ys.getPixelForValue(l[2])));

    // milling time labels
    ctx.font = 'bold 59px ' + SERIF;
    ctx.textAlign = 'right';
    timeLabels.forEach((t, i) => ctx.fillText(t, xs.getPixelForValue(60) + o.timeDx, ys.getPixelForValue(o.timeVals[i])));

    // panel title with subscripts
    ctx.textBaseline = 'alphabetic';
    ctx.textAlign = 'left';
    const big = 'bold 63px ' + SERIF, small = 'bold 39px ' + SERIF;
    let w = 0;
    o.title.forEach(p => { ctx.font = p[1] ? small : big; w += ctx.measureText(p[0]).width; });
    let x = o.titleX - w / 2;
    o.title.forEach(p => {
      ctx.font = p[1] ? small : big;
      ctx.fillText(p[0], x, o.titleY + (p[1] ? 20 : 0));
      x += ctx.measureText(p[0]).width;
    });

    // axis titles
    ctx.font = 'bold 58px ' + SERIF;
    ctx.textAlign = 'center';
    ctx.textBaseline = 'middle';
    ctx.fillText('2θ [º]', o.xTitleX, 1981);
    ctx.save();
    ctx.translate(o.yTitleX, o.yTitleY);
    ctx.rotate(-Math.PI / 2);
    ctx.font = 'bold ' + o.yTitleSize + 'px ' + SERIF;
    ctx.textBaseline = 'alphabetic';
    ctx.fillText(o.yTitle, 0, 0);
    ctx.restore();

    // panel tag
    ctx.font = '64px ' + SERIF;
    ctx.fillText(o.tag, o.tagX, 2139);
    ctx.restore();
  }
};

function makeChart(id, fits, obs, diffs, levels, cfg) {
  const datasets = [];
  fits.forEach((f, i) => {
    datasets.push({ data: f, borderColor: '#ff0000', borderWidth: 4, order: 1, cubicInterpolationMode: 'monotone' });
    datasets.push({ data: obs[i], borderColor: '#000000', borderWidth: 2.6, order: 2 });
    datasets.push({ data: diffTheta.map((t, k) => [t, levels[i] + diffs[i][k]]), borderColor: 'rgba(95,70,70,0.75)', borderWidth: 1.7, order: 3 });
  });
  return new Chart(document.getElementById(id), {
    type: 'line',
    data: { datasets },
    options: {
      responsive: false,
      animation: false,
      devicePixelRatio: 1,
      layout: { padding: { left: cfg.left, right: 3622 - cfg.right, top: 100, bottom: 201 } },
      elements: { point: { radius: 0 }, line: { tension: 0, fill: false } },
      plugins: { legend: { display: false }, tooltip: { enabled: false }, panelText: cfg },
      scales: {
        x: {
          type: 'linear', min: 20, max: 60,
          afterFit: s => { s.height = 120; },
          ticks: {
            stepSize: 5, autoSkip: false, maxRotation: 0, padding: 3, color: '#000',
            font: { family: "'Liberation Sans', Arial, sans-serif", size: 42 },
            callback: v => majorTicks.includes(v) ? String(v) : ''
          },
          grid: {
            drawOnChartArea: false, tickLength: 16, tickWidth: 2.5,
            tickColor: c => c.tick && majorTicks.includes(c.tick.value) ? '#000' : 'rgba(0,0,0,0)'
          },
          border: { display: true, color: '#000', width: 2.5 }
        },
        y: { display: false, min: 0, max: 1783 }
      }
    },
    plugins: [panelText]
  });
}

makeChart('chartA', fitsA, obsA, diffsA, diffLevelA, {
  left: 120, right: 1749, timeVals: timeValA, timeDx: -2,
  arrows: arrowsA, labels: labelsA,
  title: [['MnFe', 0], ['0.2', 1], ['Co', 0], ['0.8', 1], ['Ge', 0]], titleX: 999, titleY: 87,
  xTitleX: 933, yTitle: 'Intensity[a.u]', yTitleX: 92, yTitleY: 1119, yTitleSize: 80,
  tag: '(a)', tagX: 901
});
makeChart('chartB', fitsB, obsB, diffsB, diffLevelB, {
  left: 1980, right: 3569, timeVals: timeValB, timeDx: 1,
  arrows: arrowsB, labels: labelsB,
  title: [['MnFe', 0], ['0.2', 1], ['Co', 0], ['0.8', 1], ['Ge', 0], ['0.5', 1], ['Si', 0], ['0.5', 1]], titleX: 2805, titleY: 85,
  xTitleX: 2811, yTitle: 'Intensity [a.u]', yTitleX: 1957, yTitleY: 1155, yTitleSize: 78,
  tag: '(b)', tagX: 2742
});
</script>
</body>
</html>
